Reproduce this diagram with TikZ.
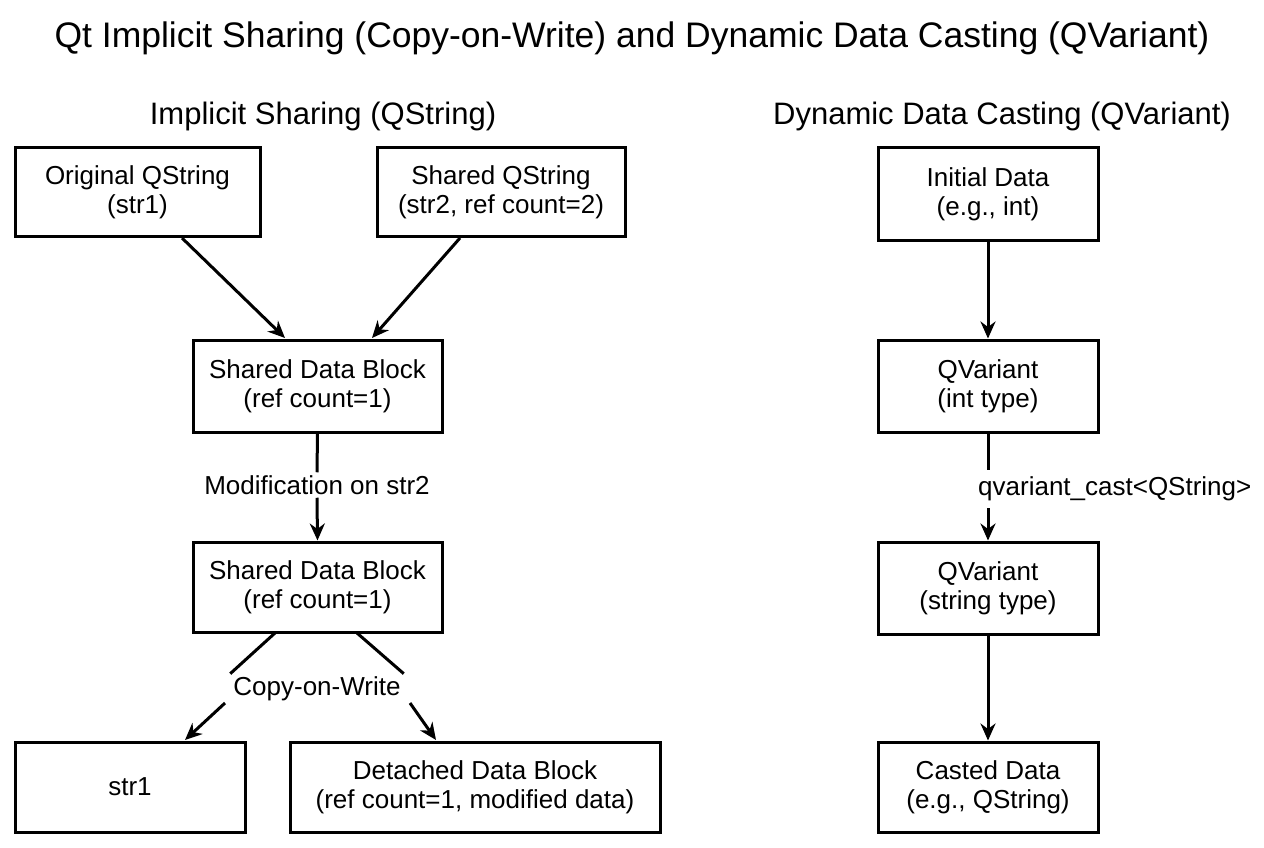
\documentclass[tikz,border=0pt]{standalone}
\usepackage{fontspec}
\setmainfont{Liberation Sans}
\usetikzlibrary{arrows.meta}
\begin{document}
\begin{tikzpicture}[x=1pt,y=-1pt,
  box/.style={draw,line width=3pt,align=center,font=\fontsize{26}{29}\selectfont},
  lab/.style={fill=white,inner sep=3pt,font=\fontsize{26}{29}\selectfont},
  arr/.style={line width=3pt,-{Stealth[length=17pt,width=15pt]}},
  ln/.style={line width=3pt}]
\useasboundingbox (0,0) rectangle (1264,848);
\node[font=\fontsize{35.5}{40}\selectfont] (title) at (632,38) {Qt Implicit Sharing (Copy-on-Write) and Dynamic Data Casting (QVariant)};
\node[font=\fontsize{31}{36}\selectfont] (h1) at (323,116) {Implicit Sharing (QString)};
\node[font=\fontsize{31}{36}\selectfont] (h2) at (1002,116) {Dynamic Data Casting (QVariant)};
\node[box,minimum width=245pt,minimum height=88pt] (orig) at (137.5,192) {Original QString\\(str1)};
\node[box,minimum width=248pt,minimum height=88pt] (shq) at (501,192) {Shared QString\\(str2, ref count=2)};
\node[box,minimum width=249pt,minimum height=92pt] (sdb1) at (317.5,386) {Shared Data Block\\(ref count=1)};
\node[box,minimum width=249pt,minimum height=90pt] (sdb2) at (317.5,587) {Shared Data Block\\(ref count=1)};
\node[box,minimum width=230pt,minimum height=90pt] (s1) at (130,787) {str1};
\node[box,minimum width=370pt,minimum height=90pt] (det) at (475,787) {Detached Data Block\\(ref count=1, modified data)};
\node[box,minimum width=220pt,minimum height=92pt] (init) at (988,194) {Initial Data\\(e.g., int)};
\node[box,minimum width=220pt,minimum height=92pt] (qint) at (988,386) {QVariant\\(int type)};
\node[box,minimum width=220pt,minimum height=92pt] (qstr) at (988,588) {QVariant\\(string type)};
\node[box,minimum width=220pt,minimum height=90pt] (cast) at (988,787) {Casted Data\\(e.g., QString)};
\coordinate (a1) at (182,238);
\coordinate (a2) at (460,238);
\draw[arr] (a1) -- (285,338);
\draw[arr] (a2) -- (372,338);
\node[lab] (mod) at (317,485) {Modification on str2};
\draw[ln] (sdb1.south) -- (mod.north);
\draw[arr] (mod.south) -- (sdb2.north);
\node[lab] (cow) at (317,689) {Copy-on-Write};
\coordinate (c1) at (275,633);
\coordinate (c2) at (357,633);
\coordinate (c3) at (225,703);
\coordinate (c4) at (410,703);
\draw[ln] (c1) -- (cow.north west);
\draw[ln] (c2) -- (cow.north east);
\draw[arr] (c3) -- (185,740);
\draw[arr] (c4) -- (436,740);
\draw[arr] (init.south) -- (qint.north);
\node[lab,anchor=west,inner sep=2pt] (qc) at (976,489) {qvariant\_cast<QString>};
\draw[ln] (qint.south) -- (988,470);
\draw[arr] (988,508) -- (qstr.north);
\draw[arr] (qstr.south) -- (cast.north);
\end{tikzpicture}
\end{document}
